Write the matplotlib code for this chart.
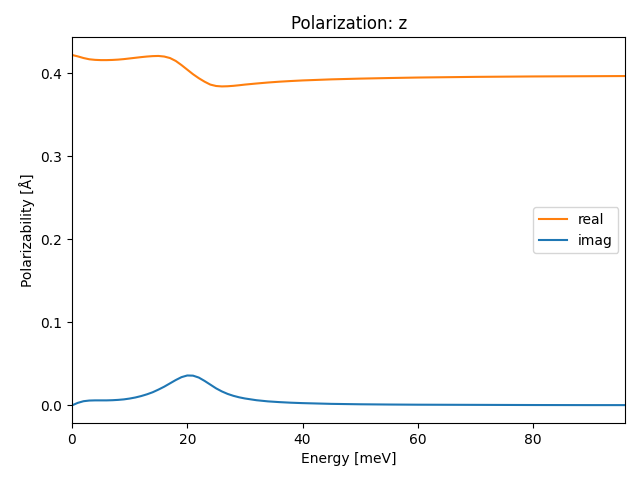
import numpy as np
import matplotlib
matplotlib.use('Agg')
import matplotlib.pyplot as plt

# Energy grid (meV)
energy = [0, 1, 2, 3, 4, 5, 6, 7, 8, 9, 10, 11, 12, 13, 14, 15, 16, 17, 18, 19,
          20, 21, 22, 23, 24, 25, 26, 27, 28, 29, 30, 32, 34, 36, 38, 40, 45, 50,
          55, 60, 70, 80, 90, 96]

# Real part of polarizability
real_part = [0.4222, 0.4205, 0.4185, 0.4170, 0.4163, 0.4160, 0.4160, 0.4162, 0.4166,
             0.4172, 0.4180, 0.4188, 0.4196, 0.4203, 0.4208, 0.4210, 0.4203, 0.4185,
             0.4150, 0.4100, 0.4045, 0.3990, 0.3942, 0.3900, 0.3865, 0.3848, 0.3843,
             0.3845, 0.3850, 0.3857, 0.3865, 0.3878, 0.3890, 0.3900, 0.3908, 0.3915,
             0.3928, 0.3937, 0.3944, 0.3950, 0.3958, 0.3963, 0.3966, 0.3968]

# Imaginary part of polarizability
imag_part = [0.0000, 0.0030, 0.0050, 0.0058, 0.0060, 0.0060, 0.0060, 0.0062, 0.0066,
             0.0072, 0.0082, 0.0095, 0.0112, 0.0133, 0.0158, 0.0190, 0.0225, 0.0265,
             0.0305, 0.0340, 0.0360, 0.0358, 0.0335, 0.0295, 0.0250, 0.0205, 0.0168,
             0.0138, 0.0115, 0.0097, 0.0083, 0.0062, 0.0048, 0.0039, 0.0032, 0.0027,
             0.0018, 0.0013, 0.0010, 0.0008, 0.0006, 0.0004, 0.0003, 0.0003]

fig, ax = plt.subplots(figsize=(6.4, 4.8), dpi=100)
ax.plot(energy, real_part, color='C1', label='real')
ax.plot(energy, imag_part, color='C0', label='imag')
ax.set_xlim(0, 96)
ax.set_title('Polarization: z')
ax.set_xlabel('Energy [meV]')
ax.set_ylabel('Polarizability [Å]')
ax.legend(loc='center right')
fig.subplots_adjust(left=0.1125, right=0.977, top=0.922, bottom=0.119)
fig.savefig('out.png')
